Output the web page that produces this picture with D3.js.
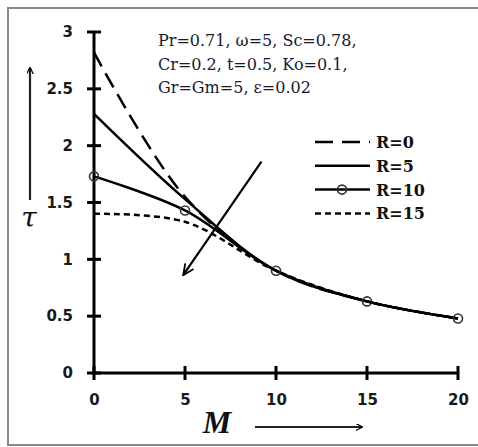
<!DOCTYPE html>
<html>
<head>
<meta charset="utf-8">
<script src="https://cdn.jsdelivr.net/npm/d3@7"></script>
<style>
  html, body { margin: 0; padding: 0; background: #fff; }
  svg { display: block; }
</style>
</head>
<body>
<svg id="chart" width="478" height="447"></svg>
<script>
// Skin-friction τ against magnetic parameter M for several radiation values R
const mValues = [0, 5, 10, 15, 20];
const seriesNames = ["R=0", "R=5", "R=10", "R=15"];
const tauR0  = [2.82, 1.55, 0.90, 0.63, 0.48];
const tauR5  = [2.28, 1.53, 0.90, 0.63, 0.48];
const tauR10 = [1.73, 1.43, 0.90, 0.63, 0.48];
const tauR15 = [1.40, 1.33, 0.90, 0.63, 0.48];
const xTicks = [0, 5, 10, 15, 20];
const yTicks = [0, 0.5, 1, 1.5, 2, 2.5, 3];
const yTickLabels = ["0", "0.5", "1", "1.5", "2", "2.5", "3"];
const paramLines = ["Pr=0.71, \u03c9=5, Sc=0.78,", "Cr=0.2,  t=0.5, Ko=0.1,", "Gr=Gm=5, \u03b5=0.02"];
// direction arrow (increasing R), in data units: [M, τ]
const trendArrow = [[9.2, 1.86], [4.9, 0.86]];

const svg = d3.select("#chart");
const x = d3.scaleLinear().domain([0, 20]).range([94, 458]);
const y = d3.scaleLinear().domain([0, 3]).range([373, 32]);

const defs = svg.append("defs");
defs.append("marker").attr("id", "ah").attr("viewBox", "0 0 10 10")
  .attr("refX", 9).attr("refY", 5).attr("markerWidth", 7).attr("markerHeight", 7)
  .attr("markerUnits", "userSpaceOnUse").attr("orient", "auto")
  .append("path").attr("d", "M0,0 L10,5 L0,10").attr("fill", "none")
  .attr("stroke", "#000").attr("stroke-width", 1.8);
defs.append("marker").attr("id", "ah2").attr("viewBox", "0 0 12 12")
  .attr("refX", 11).attr("refY", 6).attr("markerWidth", 12).attr("markerHeight", 12)
  .attr("markerUnits", "userSpaceOnUse").attr("orient", "auto")
  .append("path").attr("d", "M0,1 L11,6 L0,11").attr("fill", "none")
  .attr("stroke", "#000").attr("stroke-width", 1.8);

// outer frame
svg.append("rect").attr("x", 8).attr("y", 8).attr("width", 490).attr("height", 437)
  .attr("fill", "none").attr("stroke", "#8a8a8a").attr("stroke-width", 2);

// axes: labels from d3 axis, lines and crossing ticks drawn explicitly
const tickFont = "'DejaVu Sans', Lato, sans-serif";
const xAxis = svg.append("g").attr("transform", `translate(0,${y(0)})`)
  .call(d3.axisBottom(x).tickValues(xTicks).tickSize(0).tickPadding(21).tickFormat(d3.format("d")));
const yAxis = svg.append("g").attr("transform", `translate(${x(0)},0)`)
  .call(d3.axisLeft(y).tickValues(yTicks).tickSize(0).tickPadding(21)
    .tickFormat((d, i) => yTickLabels[i]));
[xAxis, yAxis].forEach(g => {
  g.select(".domain").remove();
  g.selectAll(".tick line").remove();
  g.selectAll("text").attr("font-family", tickFont).attr("font-weight", "bold")
    .attr("font-size", 15).attr("fill", "#1a1a1a");
});
const axisInk = svg.append("g").attr("stroke", "#000").attr("stroke-width", 3);
axisInk.append("line").attr("x1", x(0)).attr("x2", x(0)).attr("y1", y(3)).attr("y2", y(0) + 1.5);
axisInk.append("line").attr("x1", x(0) - 1.5).attr("x2", x(20)).attr("y1", y(0)).attr("y2", y(0));
axisInk.selectAll(null).data(yTicks).join("line")
  .attr("x1", x(0) - 7).attr("x2", x(0) + 7).attr("y1", d => y(d)).attr("y2", d => y(d));
axisInk.selectAll(null).data(xTicks).join("line")
  .attr("x1", d => x(d)).attr("x2", d => x(d)).attr("y1", y(0) - 7).attr("y2", y(0) + 7);

// series
const styles = [
  { dash: "16,8", circles: false },
  { dash: null, circles: false },
  { dash: null, circles: true },
  { dash: "6,4", circles: false }
];
const allSeries = [tauR0, tauR5, tauR10, tauR15];
const line = d3.line().x((d, i) => x(mValues[i])).y(d => y(d)).curve(d3.curveCatmullRom.alpha(0.5));
allSeries.forEach((vals, k) => {
  const p = svg.append("path").datum(vals).attr("d", line)
    .attr("fill", "none").attr("stroke", "#000").attr("stroke-width", 2.5);
  if (styles[k].dash) p.attr("stroke-dasharray", styles[k].dash);
  if (styles[k].circles) {
    svg.selectAll(null).data(vals).join("circle")
      .attr("cx", (d, i) => x(mValues[i])).attr("cy", d => y(d)).attr("r", 4.5)
      .attr("fill", "none").attr("stroke", "#333").attr("stroke-width", 1.6);
  }
});

// trend arrow
svg.append("line")
  .attr("x1", x(trendArrow[0][0])).attr("y1", y(trendArrow[0][1]))
  .attr("x2", x(trendArrow[1][0])).attr("y2", y(trendArrow[1][1]))
  .attr("stroke", "#000").attr("stroke-width", 2.2).attr("marker-end", "url(#ah2)");

// parameter block
const serif = "'DejaVu Serif', 'Liberation Serif', serif";
paramLines.forEach((t, i) => {
  svg.append("text").attr("x", 158).attr("y", 46 + i * 23.5).text(t)
    .attr("font-family", serif).attr("font-size", 16).attr("fill", "#1a1a2a");
});

// legend
const lg = svg.append("g");
seriesNames.forEach((name, k) => {
  const yy = 142 + k * 23.8;
  const l = lg.append("line").attr("x1", 315).attr("x2", 370).attr("y1", yy).attr("y2", yy)
    .attr("stroke", "#000").attr("stroke-width", 2.5);
  if (k === 0) l.attr("stroke-dasharray", "18,9");
  if (k === 3) l.attr("stroke-dasharray", "6,4");
  if (styles[k].circles) lg.append("circle").attr("cx", 342).attr("cy", yy).attr("r", 4.5)
    .attr("fill", "#fff").attr("fill-opacity", 0).attr("stroke", "#333").attr("stroke-width", 1.6);
  lg.append("text").attr("x", 376).attr("y", yy + 6).text(name)
    .attr("font-family", serif).attr("font-weight", "bold").attr("font-size", 16).attr("fill", "#111");
});

// axis titles with arrows
svg.append("text").attr("x", 29).attr("y", 227).attr("text-anchor", "middle").text("\u03c4")
  .attr("font-family", serif).attr("font-style", "italic").attr("font-size", 28).attr("fill", "#111");
svg.append("line").attr("x1", 30).attr("y1", 200).attr("x2", 30).attr("y2", 68)
  .attr("stroke", "#222").attr("stroke-width", 2.2).attr("marker-end", "url(#ah)");
svg.append("text").attr("x", 217).attr("y", 433).attr("text-anchor", "middle").text("M")
  .attr("font-family", "'Liberation Serif', serif").attr("font-style", "italic").attr("font-weight", "bold")
  .attr("font-size", 32).attr("fill", "#111");
svg.append("line").attr("x1", 255).attr("y1", 427).attr("x2", 362).attr("y2", 427)
  .attr("stroke", "#222").attr("stroke-width", 2.2).attr("marker-end", "url(#ah)");
</script>
</body>
</html>
